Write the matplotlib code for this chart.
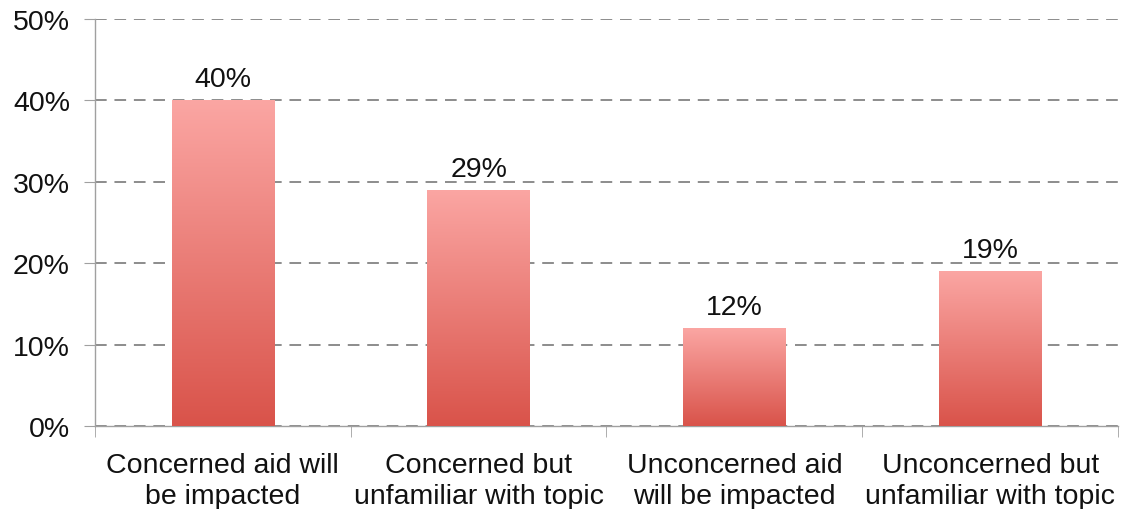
import numpy as np
import matplotlib.pyplot as plt
from matplotlib.ticker import MultipleLocator, FuncFormatter
from matplotlib.colors import LinearSegmentedColormap

categories = ['Concerned aid will\nbe impacted',
              'Concerned but\nunfamiliar with topic',
              'Unconcerned aid\nwill be impacted',
              'Unconcerned but\nunfamiliar with topic']
values = [40, 29, 12, 19]
value_labels = ['40%', '29%', '12%', '19%']

plt.rcParams['font.family'] = ['Liberation Sans', 'DejaVu Sans']

fig = plt.figure(figsize=(11.25, 5.1), dpi=100)
ax = fig.add_axes([0.0844, 0.1627, 0.9094, 0.7981])

x = np.arange(len(values))
bars = ax.bar(x, values, width=0.4, color='none', edgecolor='none', zorder=3)

# vertical gradient inside each bar: dark red at bottom, light pink on top
cmap = LinearSegmentedColormap.from_list('bar', ['#d9534a', '#fba6a3'])
grad = np.linspace(0, 1, 256).reshape(-1, 1)
for b in bars:
    x0, y0 = b.get_x(), b.get_y()
    w, h = b.get_width(), b.get_height()
    im = ax.imshow(grad, cmap=cmap, aspect='auto', origin='lower',
                   extent=[x0, x0 + w, y0, y0 + h], zorder=3)
    im.set_clip_path(b)

for xi, v, lab in zip(x, values, value_labels):
    ax.text(xi, v + 1.0, lab, ha='center', va='bottom', fontsize=20.5, color='#111111')

ax.set_xlim(-0.5, len(values) - 0.5)
ax.set_ylim(0, 50)
ax.yaxis.set_major_locator(MultipleLocator(10))
ax.yaxis.set_major_formatter(FuncFormatter(lambda v, p: '%d%%' % v))
ax.grid(axis='y', linestyle=(0, (6, 4)), color='#8c8c8c', linewidth=1.4, zorder=1)
ax.set_axisbelow(True)

ax.set_xticks(x)
ax.set_xticklabels(categories, fontsize=20.5, color='#111111', linespacing=1.25)
ax.set_xticks(np.arange(-0.5, len(values)), minor=True)
ax.tick_params(axis='x', which='major', length=0, pad=19)
ax.tick_params(axis='x', which='minor', length=8, color='#a0a0a0', direction='out')
ax.tick_params(axis='y', length=8, color='#a0a0a0', labelsize=20.5, labelcolor='#111111', pad=10)

for s in ['top', 'right']:
    ax.spines[s].set_visible(False)
for s in ['left', 'bottom']:
    ax.spines[s].set_color('#a0a0a0')
    ax.spines[s].set_linewidth(1.0)

plt.savefig('out.png', dpi=100)
